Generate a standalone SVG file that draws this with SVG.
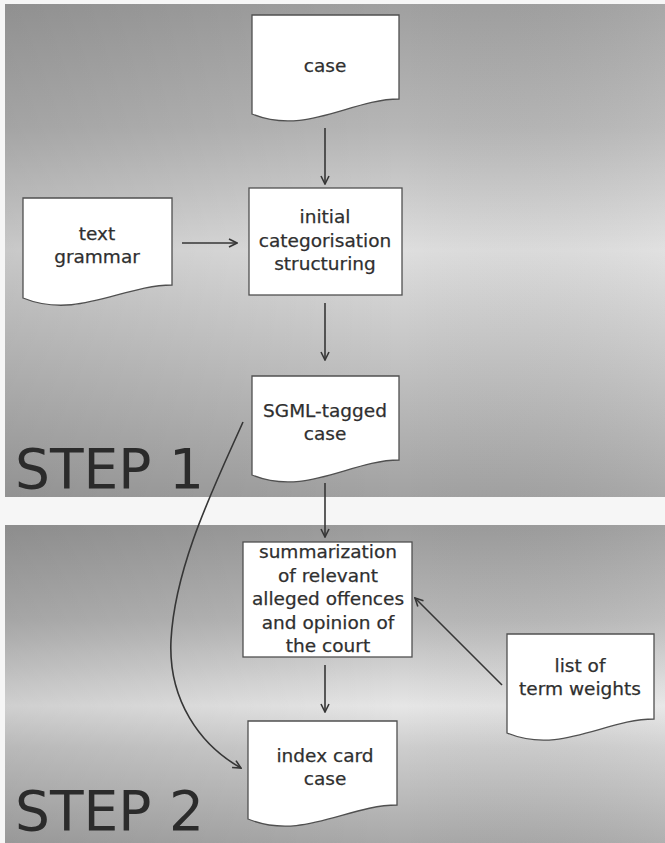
<svg xmlns="http://www.w3.org/2000/svg" width="665" height="843" viewBox="0 0 665 843">
  <style>
    .node { fill: #ffffff; stroke: #505050; stroke-width: 1.3; }
    .label { font-family: "DejaVu Sans", "Liberation Sans", sans-serif; font-size: 18.5px; fill: #2f2f2f; text-anchor: middle; stroke: #2f2f2f; stroke-width: 0.25; }
    .step { font-family: "DejaVu Sans", "Liberation Sans", sans-serif; font-size: 55px; fill: #2b2b2b; }
    .edge { fill: none; stroke: #363636; stroke-width: 1.6; }
  </style>
  <defs>
    <linearGradient id="bg1" x1="0" y1="0" x2="0" y2="1">
      <stop offset="0" stop-color="#a0a0a0"/>
      <stop offset="0.25" stop-color="#b6b6b6"/>
      <stop offset="0.5" stop-color="#dedede"/>
      <stop offset="0.62" stop-color="#cfcfcf"/>
      <stop offset="1" stop-color="#a2a2a2"/>
    </linearGradient>
    <linearGradient id="bg2" x1="0" y1="0" x2="0" y2="1">
      <stop offset="0" stop-color="#9c9c9c"/>
      <stop offset="0.3" stop-color="#b8b8b8"/>
      <stop offset="0.57" stop-color="#e6e6e6"/>
      <stop offset="0.7" stop-color="#cdcdcd"/>
      <stop offset="1" stop-color="#a9a9a9"/>
    </linearGradient>
    <linearGradient id="shadeL" x1="0" y1="0" x2="1" y2="0">
      <stop offset="0" stop-color="#000000" stop-opacity="0.10"/>
      <stop offset="0.6" stop-color="#000000" stop-opacity="0"/>
      <stop offset="1" stop-color="#ffffff" stop-opacity="0.08"/>
    </linearGradient>
    <marker id="arrow" viewBox="0 0 10 10" refX="9" refY="5" markerWidth="10" markerHeight="10" markerUnits="userSpaceOnUse" orient="auto">
      <path d="M1,1 L9,5 L1,9" fill="none" stroke="#363636" stroke-width="1.6"/>
    </marker>
  </defs>

  <!-- page and the two step panels -->
  <rect x="0" y="0" width="665" height="843" fill="#f6f6f6"/>
  <rect x="5" y="4" width="660" height="493" fill="url(#bg1)"/>
  <rect x="5" y="4" width="660" height="493" fill="url(#shadeL)"/>
  <rect x="5" y="525" width="660" height="318" fill="url(#bg2)"/>
  <rect x="5" y="525" width="660" height="318" fill="url(#shadeL)"/>

  <text class="step" x="15" y="488">STEP 1</text>
  <text class="step" x="15" y="830">STEP 2</text>

  <!-- connectors -->
  <g id="connectors">
    <line class="edge" x1="325" y1="128" x2="325" y2="184" marker-end="url(#arrow)"/>
    <line class="edge" x1="182" y1="243" x2="237" y2="243" marker-end="url(#arrow)"/>
    <line class="edge" x1="325" y1="303" x2="325" y2="360" marker-end="url(#arrow)"/>
    <line class="edge" x1="325" y1="483" x2="325" y2="537" marker-end="url(#arrow)"/>
    <line class="edge" x1="325" y1="665" x2="325" y2="712" marker-end="url(#arrow)"/>
    <line class="edge" x1="502" y1="685" x2="415" y2="598" marker-end="url(#arrow)"/>
    <path class="edge" d="M243,422 C215,485 175,565 171,640 C168,700 200,745 241,768" marker-end="url(#arrow)"/>
  </g>

  <!-- documents and process boxes -->
  <g id="case">
    <path class="node" d="M252,15 H399 V99 C351,99 305,136 252,114 Z"/>
    <text class="label" x="325" y="72">case</text>
  </g>

  <g id="text-grammar">
    <path class="node" d="M23,198 H172 V285 C123,285 77,320 23,298 Z"/>
    <text class="label" x="97" y="240">text</text>
    <text class="label" x="97" y="263">grammar</text>
  </g>

  <g id="initial-categorisation">
    <rect class="node" x="249" y="188" width="153" height="107"/>
    <text class="label" x="325" y="223">initial</text>
    <text class="label" x="325" y="247">categorisation</text>
    <text class="label" x="325" y="270">structuring</text>
  </g>

  <g id="sgml-tagged-case">
    <path class="node" d="M252,376 H399 V460 C351,460 305,497 252,475 Z"/>
    <text class="label" x="325" y="417">SGML-tagged</text>
    <text class="label" x="325" y="440">case</text>
  </g>

  <g id="summarization">
    <rect class="node" x="243" y="542" width="169" height="115"/>
    <text class="label" x="328" y="558">summarization</text>
    <text class="label" x="328" y="581.5">of relevant</text>
    <text class="label" x="328" y="605">alleged offences</text>
    <text class="label" x="328" y="628.5">and opinion of</text>
    <text class="label" x="328" y="652">the court</text>
  </g>

  <g id="term-weights">
    <path class="node" d="M507,634 H654 V719 C606,719 560,755 507,733 Z"/>
    <text class="label" x="580" y="672">list of</text>
    <text class="label" x="580" y="695">term weights</text>
  </g>

  <g id="index-card-case">
    <path class="node" d="M248,721 H397 V805 C348,805 302,841 248,819 Z"/>
    <text class="label" x="325" y="762">index card</text>
    <text class="label" x="325" y="785">case</text>
  </g>
</svg>
